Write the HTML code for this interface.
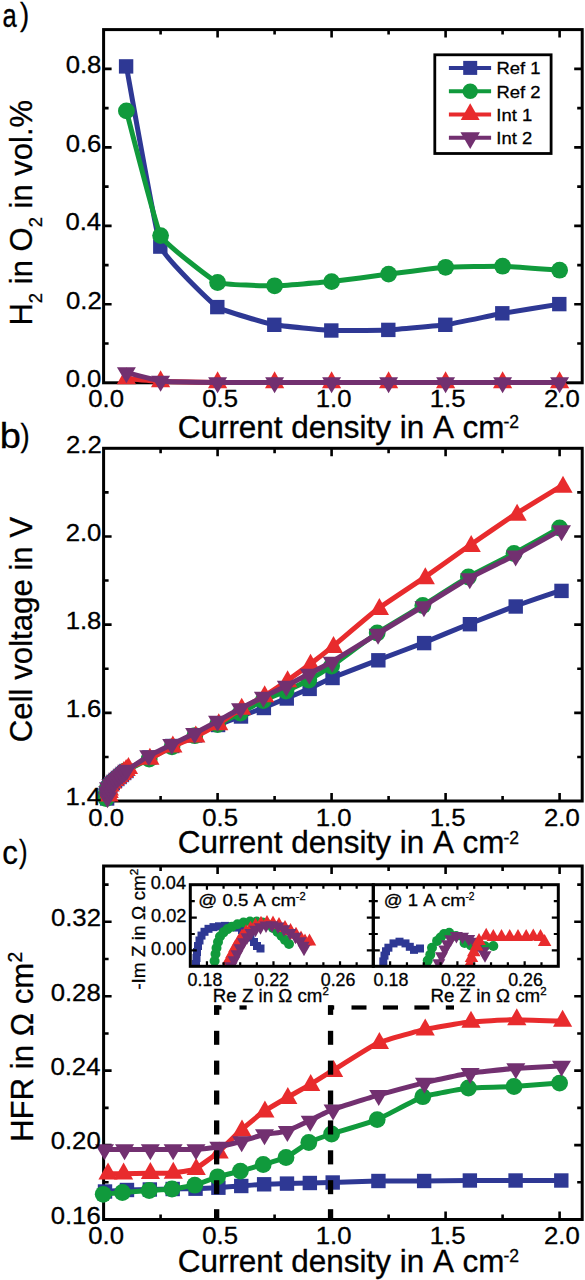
<!DOCTYPE html>
<html><head><meta charset="utf-8"><title>Figure</title>
<style>html,body{margin:0;padding:0;background:#fff;overflow:hidden;}svg{display:block;}text{stroke:#000;stroke-width:0.3px;}</style>
</head><body>
<svg width="585" height="1280" viewBox="0 0 585 1280" font-family='"Liberation Sans", sans-serif'>
<rect width="585" height="1280" fill="#fff"/>
<rect x="103.6" y="29.6" width="478.6" height="353.2" fill="none" stroke="#000" stroke-width="3"/>
<path d="M217.6,382.8 V374.8 M217.6,29.6 V37.6" stroke="#000" stroke-width="2.6"/>
<path d="M331.6,382.8 V374.8 M331.6,29.6 V37.6" stroke="#000" stroke-width="2.6"/>
<path d="M445.6,382.8 V374.8 M445.6,29.6 V37.6" stroke="#000" stroke-width="2.6"/>
<path d="M559.6,382.8 V374.8 M559.6,29.6 V37.6" stroke="#000" stroke-width="2.6"/>
<path d="M160.6,382.8 V377.8 M160.6,29.6 V34.6" stroke="#000" stroke-width="2.6"/>
<path d="M274.6,382.8 V377.8 M274.6,29.6 V34.6" stroke="#000" stroke-width="2.6"/>
<path d="M388.6,382.8 V377.8 M388.6,29.6 V34.6" stroke="#000" stroke-width="2.6"/>
<path d="M502.6,382.8 V377.8 M502.6,29.6 V34.6" stroke="#000" stroke-width="2.6"/>
<path d="M103.6,304.32 H111.6 M582.2,304.32 H574.2" stroke="#000" stroke-width="2.6"/>
<path d="M103.6,225.84 H111.6 M582.2,225.84 H574.2" stroke="#000" stroke-width="2.6"/>
<path d="M103.6,147.36 H111.6 M582.2,147.36 H574.2" stroke="#000" stroke-width="2.6"/>
<path d="M103.6,68.88 H111.6 M582.2,68.88 H574.2" stroke="#000" stroke-width="2.6"/>
<path d="M103.6,343.56 H108.6 M582.2,343.56 H577.2" stroke="#000" stroke-width="2.6"/>
<path d="M103.6,265.08 H108.6 M582.2,265.08 H577.2" stroke="#000" stroke-width="2.6"/>
<path d="M103.6,186.6 H108.6 M582.2,186.6 H577.2" stroke="#000" stroke-width="2.6"/>
<path d="M103.6,108.12 H108.6 M582.2,108.12 H577.2" stroke="#000" stroke-width="2.6"/>
<path d="M126.4,66.4 C128.11,75.41 156.04,234.56 160.6,246.6 C165.16,258.63 211.9,303.19 217.6,307.1 C223.3,311.01 268.9,323.63 274.6,324.8 C280.3,325.97 325.9,330.25 331.6,330.5 C337.3,330.75 382.9,330.19 388.6,329.9 C394.3,329.61 439.9,325.63 445.6,324.8 C451.3,323.97 496.9,314.34 502.6,313.3 C508.3,312.26 556.75,304.56 559.6,304.1" fill="none" stroke="#2e3894" stroke-width="5" stroke-linejoin="round" stroke-linecap="round"/>
<rect x="118.9" y="59.2" width="14.4" height="14.4" fill="#2e3894"/>
<rect x="153.1" y="239.4" width="14.4" height="14.4" fill="#2e3894"/>
<rect x="210.1" y="299.9" width="14.4" height="14.4" fill="#2e3894"/>
<rect x="267.1" y="317.6" width="14.4" height="14.4" fill="#2e3894"/>
<rect x="324.1" y="323.3" width="14.4" height="14.4" fill="#2e3894"/>
<rect x="381.1" y="322.7" width="14.4" height="14.4" fill="#2e3894"/>
<rect x="438.1" y="317.6" width="14.4" height="14.4" fill="#2e3894"/>
<rect x="495.1" y="306.1" width="14.4" height="14.4" fill="#2e3894"/>
<rect x="552.1" y="296.9" width="14.4" height="14.4" fill="#2e3894"/>
<path d="M126.4,110.9 C128.11,117.14 156.04,227.02 160.6,235.6 C165.16,244.18 211.9,279.99 217.6,282.5 C223.3,285.01 268.9,285.85 274.6,285.8 C280.3,285.75 325.9,282.19 331.6,281.6 C337.3,281.02 382.9,274.81 388.6,274.1 C394.3,273.39 439.9,267.69 445.6,267.3 C451.3,266.91 496.9,266.06 502.6,266.2 C508.3,266.34 556.75,270 559.6,270.2" fill="none" stroke="#109a3c" stroke-width="5" stroke-linejoin="round" stroke-linecap="round"/>
<circle cx="126.4" cy="110.9" r="8.4" fill="#109a3c"/>
<circle cx="160.6" cy="235.6" r="8.4" fill="#109a3c"/>
<circle cx="217.6" cy="282.5" r="8.4" fill="#109a3c"/>
<circle cx="274.6" cy="285.8" r="8.4" fill="#109a3c"/>
<circle cx="331.6" cy="281.6" r="8.4" fill="#109a3c"/>
<circle cx="388.6" cy="274.1" r="8.4" fill="#109a3c"/>
<circle cx="445.6" cy="267.3" r="8.4" fill="#109a3c"/>
<circle cx="502.6" cy="266.2" r="8.4" fill="#109a3c"/>
<circle cx="559.6" cy="270.2" r="8.4" fill="#109a3c"/>
<path d="M126.4,378.5 C128.11,378.65 156.04,381.3 160.6,381.5 C165.16,381.7 211.9,382.45 217.6,382.5 C223.3,382.55 268.9,382.5 274.6,382.5 C280.3,382.5 325.9,382.5 331.6,382.5 C337.3,382.5 382.9,382.5 388.6,382.5 C394.3,382.5 439.9,382.5 445.6,382.5 C451.3,382.5 496.9,382.5 502.6,382.5 C508.3,382.5 556.75,382.5 559.6,382.5" fill="none" stroke="#e82b2d" stroke-width="5" stroke-linejoin="round" stroke-linecap="round"/>
<polygon points="126.4,367.17 136,384.17 116.8,384.17" fill="#e82b2d"/>
<polygon points="160.6,370.17 170.2,387.17 151,387.17" fill="#e82b2d"/>
<polygon points="217.6,371.17 227.2,388.17 208,388.17" fill="#e82b2d"/>
<polygon points="274.6,371.17 284.2,388.17 265,388.17" fill="#e82b2d"/>
<polygon points="331.6,371.17 341.2,388.17 322,388.17" fill="#e82b2d"/>
<polygon points="388.6,371.17 398.2,388.17 379,388.17" fill="#e82b2d"/>
<polygon points="445.6,371.17 455.2,388.17 436,388.17" fill="#e82b2d"/>
<polygon points="502.6,371.17 512.2,388.17 493,388.17" fill="#e82b2d"/>
<polygon points="559.6,371.17 569.2,388.17 550,388.17" fill="#e82b2d"/>
<path d="M126.4,372.5 C128.11,372.93 156.04,380.5 160.6,381 C165.16,381.5 211.9,382.43 217.6,382.5 C223.3,382.57 268.9,382.5 274.6,382.5 C280.3,382.5 325.9,382.5 331.6,382.5 C337.3,382.5 382.9,382.5 388.6,382.5 C394.3,382.5 439.9,382.5 445.6,382.5 C451.3,382.5 496.9,382.5 502.6,382.5 C508.3,382.5 556.75,382.5 559.6,382.5" fill="none" stroke="#723070" stroke-width="5" stroke-linejoin="round" stroke-linecap="round"/>
<polygon points="116.9,367.17 135.9,367.17 126.4,383.17" fill="#723070"/>
<polygon points="151.1,375.67 170.1,375.67 160.6,391.67" fill="#723070"/>
<polygon points="208.1,377.17 227.1,377.17 217.6,393.17" fill="#723070"/>
<polygon points="265.1,377.17 284.1,377.17 274.6,393.17" fill="#723070"/>
<polygon points="322.1,377.17 341.1,377.17 331.6,393.17" fill="#723070"/>
<polygon points="379.1,377.17 398.1,377.17 388.6,393.17" fill="#723070"/>
<polygon points="436.1,377.17 455.1,377.17 445.6,393.17" fill="#723070"/>
<polygon points="493.1,377.17 512.1,377.17 502.6,393.17" fill="#723070"/>
<polygon points="550.1,377.17 569.1,377.17 559.6,393.17" fill="#723070"/>
<text transform="translate(65.67,387.2) scale(1.0500,1.0000)" font-size="24.5" fill="#000">0.0</text>
<text transform="translate(65.93,308.72) scale(1.0500,1.0000)" font-size="24.5" fill="#000">0.2</text>
<text transform="translate(65.41,230.24) scale(1.0500,1.0000)" font-size="24.5" fill="#000">0.4</text>
<text transform="translate(65.67,151.76) scale(1.0500,1.0000)" font-size="24.5" fill="#000">0.6</text>
<text transform="translate(65.67,73.28) scale(1.0500,1.0000)" font-size="24.5" fill="#000">0.8</text>
<text transform="translate(88.3,407.4) scale(1.0500,1.0000)" font-size="24.5" fill="#000">0.0</text>
<text transform="translate(202.3,407.4) scale(1.0500,1.0000)" font-size="24.5" fill="#000">0.5</text>
<text transform="translate(315.78,407.4) scale(1.0500,1.0000)" font-size="24.5" fill="#000">1.0</text>
<text transform="translate(429.78,407.4) scale(1.0500,1.0000)" font-size="24.5" fill="#000">1.5</text>
<text transform="translate(544.04,407.4) scale(1.0500,1.0000)" font-size="24.5" fill="#000">2.0</text>
<text transform="translate(177.73,437.6) scale(1.0284,1.0000)" font-size="30.6" fill="#000">Current density in A cm</text>
<text transform="translate(503.5,427.8) scale(1.0034,1.0000)" font-size="17.5" fill="#000">-2</text>
<g transform="translate(31.8,325.58) rotate(-90) scale(1.0009,1.0400)">
<text x="0" y="0" font-size="31">H</text>
<text x="22.39" y="10.2" font-size="18.5">2</text>
<text x="32.68" y="0" font-size="31"> in O</text>
<text x="98.14" y="10.2" font-size="18.5">2</text>
<text x="108.43" y="0" font-size="31"> in vol.%</text>
</g>
<rect x="434.8" y="54.8" width="116.3" height="98.7" fill="#fff" stroke="#000" stroke-width="2.8"/>
<path d="M448.9,67.9 H491.1" stroke="#2e3894" stroke-width="4"/>
<rect x="463.2" y="60.9" width="14" height="14" fill="#2e3894"/>
<text transform="translate(496.52,74.3) scale(1.0600,1.0000)" font-size="17.4" fill="#000">Ref 1</text>
<path d="M448.9,91.2 H491.1" stroke="#109a3c" stroke-width="4"/>
<circle cx="470.2" cy="91.2" r="7.75" fill="#109a3c"/>
<text transform="translate(496.52,97.6) scale(1.0600,1.0000)" font-size="17.4" fill="#000">Ref 2</text>
<path d="M448.9,114.5 H491.1" stroke="#e82b2d" stroke-width="4"/>
<polygon points="470.2,103.37 479.65,120.07 460.75,120.07" fill="#e82b2d"/>
<text transform="translate(496.34,120.9) scale(1.0600,1.0000)" font-size="17.4" fill="#000">Int 1</text>
<path d="M448.9,137.8 H491.1" stroke="#723070" stroke-width="4"/>
<polygon points="460.45,132.23 479.95,132.23 470.2,148.93" fill="#723070"/>
<text transform="translate(496.34,144.2) scale(1.0600,1.0000)" font-size="17.4" fill="#000">Int 2</text>
<text transform="translate(2.58,26.9) scale(0.7612,1.0000)" font-size="33.6" fill="#000">a</text>
<text transform="translate(20,24.64) scale(0.8675,1.0000)" font-size="31.7" fill="#000">)</text>
<rect x="103.6" y="448.3" width="478.6" height="352.7" fill="none" stroke="#000" stroke-width="3"/>
<path d="M217.6,801 V793 M217.6,448.3 V456.3" stroke="#000" stroke-width="2.6"/>
<path d="M331.6,801 V793 M331.6,448.3 V456.3" stroke="#000" stroke-width="2.6"/>
<path d="M445.6,801 V793 M445.6,448.3 V456.3" stroke="#000" stroke-width="2.6"/>
<path d="M559.6,801 V793 M559.6,448.3 V456.3" stroke="#000" stroke-width="2.6"/>
<path d="M160.6,801 V796 M160.6,448.3 V453.3" stroke="#000" stroke-width="2.6"/>
<path d="M274.6,801 V796 M274.6,448.3 V453.3" stroke="#000" stroke-width="2.6"/>
<path d="M388.6,801 V796 M388.6,448.3 V453.3" stroke="#000" stroke-width="2.6"/>
<path d="M502.6,801 V796 M502.6,448.3 V453.3" stroke="#000" stroke-width="2.6"/>
<path d="M103.6,712.84 H111.6 M582.2,712.84 H574.2" stroke="#000" stroke-width="2.6"/>
<path d="M103.6,624.66 H111.6 M582.2,624.66 H574.2" stroke="#000" stroke-width="2.6"/>
<path d="M103.6,536.48 H111.6 M582.2,536.48 H574.2" stroke="#000" stroke-width="2.6"/>
<path d="M103.6,756.93 H108.6 M582.2,756.93 H577.2" stroke="#000" stroke-width="2.6"/>
<path d="M103.6,668.75 H108.6 M582.2,668.75 H577.2" stroke="#000" stroke-width="2.6"/>
<path d="M103.6,580.57 H108.6 M582.2,580.57 H577.2" stroke="#000" stroke-width="2.6"/>
<path d="M103.6,492.39 H108.6 M582.2,492.39 H577.2" stroke="#000" stroke-width="2.6"/>
<path d="M107.1,798.5 C107.11,798.33 107.23,795.3 107.24,795 C107.25,794.7 107.33,792.83 107.38,792.5 C107.43,792.17 108.01,788.85 108.16,788.5 C108.31,788.15 110.21,785.77 110.44,785.5 C110.67,785.23 112.49,783.23 112.72,783 C112.95,782.77 114.77,781.2 115,781 C115.23,780.8 117.05,779.2 117.28,779 C117.51,778.8 119.33,777.2 119.56,777 C119.79,776.8 121.61,775.2 121.84,775 C122.07,774.8 123.89,773.2 124.12,773 C124.35,772.8 125.15,771.77 126.4,771 C127.65,770.23 146.92,758.75 149.2,757.5 C151.48,756.25 169.72,747.1 172,746 C174.28,744.9 192.52,736.55 194.8,735.5 C197.08,734.45 215.32,725.95 217.6,725 C219.88,724.05 238.12,717.35 240.4,716.5 C242.68,715.65 260.92,708.9 263.2,708 C265.48,707.1 283.72,699.46 286,698.5 C288.28,697.54 306.52,689.92 308.8,688.9 C311.08,687.88 328.18,679.43 331.6,678 C335.02,676.57 372.64,662.04 377.2,660.3 C381.76,658.55 418.24,644.9 422.8,643.1 C427.36,641.3 463.84,626.03 468.4,624.2 C472.96,622.37 509.44,608.16 514,606.5 C518.56,604.84 557.32,591.68 559.6,590.9" fill="none" stroke="#2e3894" stroke-width="5" stroke-linejoin="round" stroke-linecap="round"/>
<rect x="99.91" y="791.3" width="14.4" height="14.4" fill="#2e3894"/>
<rect x="100.06" y="787.8" width="14.4" height="14.4" fill="#2e3894"/>
<rect x="100.2" y="785.3" width="14.4" height="14.4" fill="#2e3894"/>
<rect x="100.98" y="781.3" width="14.4" height="14.4" fill="#2e3894"/>
<rect x="103.27" y="778.3" width="14.4" height="14.4" fill="#2e3894"/>
<rect x="105.56" y="775.8" width="14.4" height="14.4" fill="#2e3894"/>
<rect x="107.85" y="773.8" width="14.4" height="14.4" fill="#2e3894"/>
<rect x="110.14" y="771.8" width="14.4" height="14.4" fill="#2e3894"/>
<rect x="112.43" y="769.8" width="14.4" height="14.4" fill="#2e3894"/>
<rect x="114.72" y="767.8" width="14.4" height="14.4" fill="#2e3894"/>
<rect x="117.01" y="765.8" width="14.4" height="14.4" fill="#2e3894"/>
<rect x="119.29" y="763.8" width="14.4" height="14.4" fill="#2e3894"/>
<rect x="142.19" y="750.3" width="14.4" height="14.4" fill="#2e3894"/>
<rect x="165.09" y="738.8" width="14.4" height="14.4" fill="#2e3894"/>
<rect x="187.98" y="728.3" width="14.4" height="14.4" fill="#2e3894"/>
<rect x="210.88" y="717.8" width="14.4" height="14.4" fill="#2e3894"/>
<rect x="233.77" y="709.3" width="14.4" height="14.4" fill="#2e3894"/>
<rect x="256.67" y="700.8" width="14.4" height="14.4" fill="#2e3894"/>
<rect x="279.56" y="691.3" width="14.4" height="14.4" fill="#2e3894"/>
<rect x="302.46" y="681.7" width="14.4" height="14.4" fill="#2e3894"/>
<rect x="325.35" y="670.8" width="14.4" height="14.4" fill="#2e3894"/>
<rect x="371.14" y="653.1" width="14.4" height="14.4" fill="#2e3894"/>
<rect x="416.93" y="635.9" width="14.4" height="14.4" fill="#2e3894"/>
<rect x="462.72" y="617" width="14.4" height="14.4" fill="#2e3894"/>
<rect x="508.51" y="599.3" width="14.4" height="14.4" fill="#2e3894"/>
<rect x="554.3" y="583.7" width="14.4" height="14.4" fill="#2e3894"/>
<path d="M106.1,798.5 C106.11,798.33 106.23,795.3 106.24,795 C106.25,794.7 106.33,792.83 106.38,792.5 C106.43,792.17 107.01,788.85 107.16,788.5 C107.31,788.15 109.21,785.77 109.44,785.5 C109.67,785.23 111.49,783.23 111.72,783 C111.95,782.77 113.77,781.2 114,781 C114.23,780.8 116.05,779.2 116.28,779 C116.51,778.8 118.33,777.2 118.56,777 C118.79,776.8 120.61,775.2 120.84,775 C121.07,774.8 122.89,773.2 123.12,773 C123.35,772.8 124.1,771.7 125.4,771 C126.7,770.3 146.87,760.21 149.2,759 C151.53,757.79 169.72,747.96 172,746.8 C174.28,745.63 192.52,736.82 194.8,735.7 C197.08,734.59 215.32,725.63 217.6,724.5 C219.88,723.37 238.12,714.2 240.4,713 C242.68,711.8 260.92,701.6 263.2,700.5 C265.48,699.4 283.72,692.02 286,691 C288.28,689.98 306.52,681.25 308.8,680 C311.08,678.75 328.18,668.35 331.6,666 C335.02,663.65 372.64,636.02 377.2,633 C381.76,629.98 418.24,608.3 422.8,605.5 C427.36,602.7 463.84,579.6 468.4,577 C472.96,574.4 509.44,555.95 514,553.5 C518.56,551.05 557.32,529.27 559.6,528" fill="none" stroke="#109a3c" stroke-width="5" stroke-linejoin="round" stroke-linecap="round"/>
<circle cx="106.1" cy="798.5" r="8.4" fill="#109a3c"/>
<circle cx="106.24" cy="795" r="8.4" fill="#109a3c"/>
<circle cx="106.38" cy="792.5" r="8.4" fill="#109a3c"/>
<circle cx="107.16" cy="788.5" r="8.4" fill="#109a3c"/>
<circle cx="109.44" cy="785.5" r="8.4" fill="#109a3c"/>
<circle cx="111.72" cy="783" r="8.4" fill="#109a3c"/>
<circle cx="114" cy="781" r="8.4" fill="#109a3c"/>
<circle cx="116.28" cy="779" r="8.4" fill="#109a3c"/>
<circle cx="118.56" cy="777" r="8.4" fill="#109a3c"/>
<circle cx="120.84" cy="775" r="8.4" fill="#109a3c"/>
<circle cx="123.12" cy="773" r="8.4" fill="#109a3c"/>
<circle cx="125.4" cy="771" r="8.4" fill="#109a3c"/>
<circle cx="149.2" cy="759" r="8.4" fill="#109a3c"/>
<circle cx="172" cy="746.8" r="8.4" fill="#109a3c"/>
<circle cx="194.8" cy="735.7" r="8.4" fill="#109a3c"/>
<circle cx="217.6" cy="724.5" r="8.4" fill="#109a3c"/>
<circle cx="240.4" cy="713" r="8.4" fill="#109a3c"/>
<circle cx="263.2" cy="700.5" r="8.4" fill="#109a3c"/>
<circle cx="286" cy="691" r="8.4" fill="#109a3c"/>
<circle cx="308.8" cy="680" r="8.4" fill="#109a3c"/>
<circle cx="331.6" cy="666" r="8.4" fill="#109a3c"/>
<circle cx="377.2" cy="633" r="8.4" fill="#109a3c"/>
<circle cx="422.8" cy="605.5" r="8.4" fill="#109a3c"/>
<circle cx="468.4" cy="577" r="8.4" fill="#109a3c"/>
<circle cx="514" cy="553.5" r="8.4" fill="#109a3c"/>
<circle cx="559.6" cy="528" r="8.4" fill="#109a3c"/>
<path d="M108.6,795.83 C108.61,795.66 108.73,792.63 108.74,792.33 C108.75,792.03 108.83,790.16 108.88,789.83 C108.93,789.51 109.51,786.18 109.66,785.83 C109.81,785.48 111.71,783.11 111.94,782.83 C112.17,782.56 113.99,780.56 114.22,780.33 C114.45,780.11 116.27,778.53 116.5,778.33 C116.73,778.13 118.55,776.53 118.78,776.33 C119.01,776.13 120.83,774.53 121.06,774.33 C121.29,774.13 123.11,772.53 123.34,772.33 C123.57,772.13 125.39,770.53 125.62,770.33 C125.85,770.13 126.72,768.89 127.9,768.33 C129.08,767.77 146.99,760.2 149.2,759.13 C151.41,758.06 169.72,748.04 172,746.93 C174.28,745.82 192.52,738.05 194.8,736.93 C197.08,735.82 215.32,726.02 217.6,724.63 C219.88,723.24 238.12,710.53 240.4,709.13 C242.68,707.73 260.92,698.01 263.2,696.63 C265.48,695.25 283.72,683.11 286,681.53 C288.28,679.96 306.52,666.84 308.8,665.13 C311.08,663.43 328.18,650.22 331.6,647.43 C335.02,644.64 372.64,612.77 377.2,609.33 C381.76,605.89 418.24,581.78 422.8,578.63 C427.36,575.48 463.84,549.51 468.4,546.33 C472.96,543.15 509.44,518 514,515.03 C518.56,512.07 557.32,488.43 559.6,487.03" fill="none" stroke="#e82b2d" stroke-width="5" stroke-linejoin="round" stroke-linecap="round"/>
<polygon points="109.03,784.5 118.63,801.5 99.43,801.5" fill="#e82b2d"/>
<polygon points="109.17,781 118.77,798 99.57,798" fill="#e82b2d"/>
<polygon points="109.31,778.5 118.91,795.5 99.71,795.5" fill="#e82b2d"/>
<polygon points="110.1,774.5 119.7,791.5 100.5,791.5" fill="#e82b2d"/>
<polygon points="112.39,771.5 121.99,788.5 102.79,788.5" fill="#e82b2d"/>
<polygon points="114.69,769 124.29,786 105.09,786" fill="#e82b2d"/>
<polygon points="116.98,767 126.58,784 107.38,784" fill="#e82b2d"/>
<polygon points="119.28,765 128.88,782 109.68,782" fill="#e82b2d"/>
<polygon points="121.57,763 131.17,780 111.97,780" fill="#e82b2d"/>
<polygon points="123.87,761 133.47,778 114.27,778" fill="#e82b2d"/>
<polygon points="126.16,759 135.76,776 116.56,776" fill="#e82b2d"/>
<polygon points="128.46,757 138.06,774 118.86,774" fill="#e82b2d"/>
<polygon points="149.9,747.8 159.5,764.8 140.3,764.8" fill="#e82b2d"/>
<polygon points="172.85,735.6 182.45,752.6 163.25,752.6" fill="#e82b2d"/>
<polygon points="195.8,725.6 205.4,742.6 186.2,742.6" fill="#e82b2d"/>
<polygon points="218.75,713.3 228.35,730.3 209.15,730.3" fill="#e82b2d"/>
<polygon points="241.7,697.8 251.3,714.8 232.1,714.8" fill="#e82b2d"/>
<polygon points="264.65,685.3 274.25,702.3 255.05,702.3" fill="#e82b2d"/>
<polygon points="287.6,670.2 297.2,687.2 278,687.2" fill="#e82b2d"/>
<polygon points="310.55,653.8 320.15,670.8 300.95,670.8" fill="#e82b2d"/>
<polygon points="333.5,636.1 343.1,653.1 323.9,653.1" fill="#e82b2d"/>
<polygon points="379.4,598 389,615 369.8,615" fill="#e82b2d"/>
<polygon points="425.3,567.3 434.9,584.3 415.7,584.3" fill="#e82b2d"/>
<polygon points="471.2,535 480.8,552 461.6,552" fill="#e82b2d"/>
<polygon points="517.1,503.7 526.7,520.7 507.5,520.7" fill="#e82b2d"/>
<polygon points="563,475.7 572.6,492.7 553.4,492.7" fill="#e82b2d"/>
<path d="M108.1,797.5 C108.11,797.33 108.23,794.3 108.24,794 C108.25,793.7 108.33,791.83 108.38,791.5 C108.43,791.17 109.01,787.85 109.16,787.5 C109.31,787.15 111.21,784.77 111.44,784.5 C111.67,784.23 113.49,782.23 113.72,782 C113.95,781.77 115.77,780.2 116,780 C116.23,779.8 118.05,778.2 118.28,778 C118.51,777.8 120.33,776.2 120.56,776 C120.79,775.8 122.61,774.2 122.84,774 C123.07,773.8 124.89,772.2 125.12,772 C125.35,771.8 126.2,770.82 127.4,770 C128.6,769.18 146.97,756.88 149.2,755.6 C151.43,754.32 169.72,745.51 172,744.4 C174.28,743.28 192.52,734.46 194.8,733.3 C197.08,732.13 215.32,722.34 217.6,721.1 C219.88,719.86 238.12,709.71 240.4,708.5 C242.68,707.29 260.92,698.12 263.2,697 C265.48,695.88 283.72,687.15 286,686 C288.28,684.85 306.52,675.2 308.8,674 C311.08,672.8 328.18,664 331.6,662 C335.02,660 372.64,636.77 377.2,634 C381.76,631.23 418.24,609.27 422.8,606.5 C427.36,603.73 463.84,581.03 468.4,578.5 C472.96,575.97 509.44,558.19 514,555.8 C518.56,553.4 557.32,531.86 559.6,530.6" fill="none" stroke="#723070" stroke-width="5" stroke-linejoin="round" stroke-linecap="round"/>
<polygon points="97.93,792.17 116.93,792.17 107.43,808.17" fill="#723070"/>
<polygon points="98.07,788.67 117.07,788.67 107.57,804.67" fill="#723070"/>
<polygon points="98.21,786.17 117.21,786.17 107.71,802.17" fill="#723070"/>
<polygon points="98.99,782.17 117.99,782.17 108.49,798.17" fill="#723070"/>
<polygon points="101.28,779.17 120.28,779.17 110.78,795.17" fill="#723070"/>
<polygon points="103.58,776.67 122.58,776.67 113.08,792.67" fill="#723070"/>
<polygon points="105.87,774.67 124.87,774.67 115.37,790.67" fill="#723070"/>
<polygon points="108.16,772.67 127.16,772.67 117.66,788.67" fill="#723070"/>
<polygon points="110.46,770.67 129.46,770.67 119.96,786.67" fill="#723070"/>
<polygon points="112.75,768.67 131.75,768.67 122.25,784.67" fill="#723070"/>
<polygon points="115.04,766.67 134.04,766.67 124.54,782.67" fill="#723070"/>
<polygon points="117.34,764.67 136.34,764.67 126.84,780.67" fill="#723070"/>
<polygon points="139.26,750.27 158.26,750.27 148.76,766.27" fill="#723070"/>
<polygon points="162.19,739.07 181.19,739.07 171.69,755.07" fill="#723070"/>
<polygon points="185.12,727.97 204.12,727.97 194.62,743.97" fill="#723070"/>
<polygon points="208.05,715.77 227.05,715.77 217.55,731.77" fill="#723070"/>
<polygon points="230.98,703.17 249.98,703.17 240.48,719.17" fill="#723070"/>
<polygon points="253.91,691.67 272.91,691.67 263.41,707.67" fill="#723070"/>
<polygon points="276.84,680.67 295.84,680.67 286.34,696.67" fill="#723070"/>
<polygon points="299.77,668.67 318.77,668.67 309.27,684.67" fill="#723070"/>
<polygon points="322.7,656.67 341.7,656.67 332.2,672.67" fill="#723070"/>
<polygon points="368.56,628.67 387.56,628.67 378.06,644.67" fill="#723070"/>
<polygon points="414.42,601.17 433.42,601.17 423.92,617.17" fill="#723070"/>
<polygon points="460.28,573.17 479.28,573.17 469.78,589.17" fill="#723070"/>
<polygon points="506.14,550.47 525.14,550.47 515.64,566.47" fill="#723070"/>
<polygon points="552,525.27 571,525.27 561.5,541.27" fill="#723070"/>
<text transform="translate(65.41,805.22) scale(1.0500,1.0000)" font-size="24.5" fill="#000">1.4</text>
<text transform="translate(65.67,717.04) scale(1.0500,1.0000)" font-size="24.5" fill="#000">1.6</text>
<text transform="translate(65.67,628.86) scale(1.0500,1.0000)" font-size="24.5" fill="#000">1.8</text>
<text transform="translate(65.67,540.68) scale(1.0500,1.0000)" font-size="24.5" fill="#000">2.0</text>
<text transform="translate(65.93,452.5) scale(1.0500,1.0000)" font-size="24.5" fill="#000">2.2</text>
<text transform="translate(88.3,825.6) scale(1.0500,1.0000)" font-size="24.5" fill="#000">0.0</text>
<text transform="translate(202.3,825.6) scale(1.0500,1.0000)" font-size="24.5" fill="#000">0.5</text>
<text transform="translate(315.78,825.6) scale(1.0500,1.0000)" font-size="24.5" fill="#000">1.0</text>
<text transform="translate(429.78,825.6) scale(1.0500,1.0000)" font-size="24.5" fill="#000">1.5</text>
<text transform="translate(544.04,825.6) scale(1.0500,1.0000)" font-size="24.5" fill="#000">2.0</text>
<text transform="translate(177.73,853.3) scale(1.0284,1.0000)" font-size="30.6" fill="#000">Current density in A cm</text>
<text transform="translate(503.5,843.5) scale(1.0034,1.0000)" font-size="17.5" fill="#000">-2</text>
<g transform="translate(32,742.16) rotate(-90) scale(1.0061,1.0400)">
<text x="0" y="0" font-size="31">Cell voltage in V</text>
</g>
<text transform="translate(-0.28,447.8) scale(1.0656,1.0000)" font-size="35.7" fill="#000">b</text>
<text transform="translate(20.5,446.14) scale(0.8675,1.0000)" font-size="31.7" fill="#000">)</text>
<rect x="103.6" y="866" width="478.6" height="353.5" fill="none" stroke="#000" stroke-width="3"/>
<path d="M217.6,1219.5 V1211.5 M217.6,866 V874" stroke="#000" stroke-width="2.6"/>
<path d="M331.6,1219.5 V1211.5 M331.6,866 V874" stroke="#000" stroke-width="2.6"/>
<path d="M445.6,1219.5 V1211.5 M445.6,866 V874" stroke="#000" stroke-width="2.6"/>
<path d="M559.6,1219.5 V1211.5 M559.6,866 V874" stroke="#000" stroke-width="2.6"/>
<path d="M160.6,1219.5 V1214.5 M160.6,866 V871" stroke="#000" stroke-width="2.6"/>
<path d="M274.6,1219.5 V1214.5 M274.6,866 V871" stroke="#000" stroke-width="2.6"/>
<path d="M388.6,1219.5 V1214.5 M388.6,866 V871" stroke="#000" stroke-width="2.6"/>
<path d="M502.6,1219.5 V1214.5 M502.6,866 V871" stroke="#000" stroke-width="2.6"/>
<path d="M103.6,1145.08 H111.6 M582.2,1145.08 H574.2" stroke="#000" stroke-width="2.6"/>
<path d="M103.6,1070.66 H111.6 M582.2,1070.66 H574.2" stroke="#000" stroke-width="2.6"/>
<path d="M103.6,996.24 H111.6 M582.2,996.24 H574.2" stroke="#000" stroke-width="2.6"/>
<path d="M103.6,921.82 H111.6 M582.2,921.82 H574.2" stroke="#000" stroke-width="2.6"/>
<path d="M103.6,1182.29 H108.6 M582.2,1182.29 H577.2" stroke="#000" stroke-width="2.6"/>
<path d="M103.6,1107.87 H108.6 M582.2,1107.87 H577.2" stroke="#000" stroke-width="2.6"/>
<path d="M103.6,1033.45 H108.6 M582.2,1033.45 H577.2" stroke="#000" stroke-width="2.6"/>
<path d="M103.6,959.03 H108.6 M582.2,959.03 H577.2" stroke="#000" stroke-width="2.6"/>
<path d="M103.6,884.61 H108.6 M582.2,884.61 H577.2" stroke="#000" stroke-width="2.6"/>
<path d="M104.5,1191.5 C105.59,1191.42 124.16,1190.1 126.4,1190 C128.63,1189.9 146.92,1189.55 149.2,1189.5 C151.48,1189.45 169.72,1189.04 172,1189 C174.28,1188.96 192.52,1188.77 194.8,1188.7 C197.08,1188.63 215.32,1187.84 217.6,1187.7 C219.88,1187.57 238.12,1186.17 240.4,1186 C242.68,1185.83 260.92,1184.42 263.2,1184.3 C265.48,1184.18 283.72,1183.66 286,1183.6 C288.28,1183.53 306.52,1183.06 308.8,1183 C311.08,1182.94 328.18,1182.6 331.6,1182.5 C335.02,1182.4 372.64,1181.08 377.2,1181 C381.76,1180.92 418.24,1181.03 422.8,1181 C427.36,1180.97 463.84,1180.53 468.4,1180.5 C472.96,1180.47 509.44,1180.5 514,1180.5 C518.56,1180.5 557.32,1180.5 559.6,1180.5" fill="none" stroke="#2e3894" stroke-width="5" stroke-linejoin="round" stroke-linecap="round"/>
<rect x="97.8" y="1184.3" width="14.4" height="14.4" fill="#2e3894"/>
<rect x="119.76" y="1182.8" width="14.4" height="14.4" fill="#2e3894"/>
<rect x="142.62" y="1182.3" width="14.4" height="14.4" fill="#2e3894"/>
<rect x="165.48" y="1181.8" width="14.4" height="14.4" fill="#2e3894"/>
<rect x="188.34" y="1181.5" width="14.4" height="14.4" fill="#2e3894"/>
<rect x="211.2" y="1180.5" width="14.4" height="14.4" fill="#2e3894"/>
<rect x="234.06" y="1178.8" width="14.4" height="14.4" fill="#2e3894"/>
<rect x="256.92" y="1177.1" width="14.4" height="14.4" fill="#2e3894"/>
<rect x="279.78" y="1176.4" width="14.4" height="14.4" fill="#2e3894"/>
<rect x="302.64" y="1175.8" width="14.4" height="14.4" fill="#2e3894"/>
<rect x="325.5" y="1175.3" width="14.4" height="14.4" fill="#2e3894"/>
<rect x="371.22" y="1173.8" width="14.4" height="14.4" fill="#2e3894"/>
<rect x="416.94" y="1173.8" width="14.4" height="14.4" fill="#2e3894"/>
<rect x="462.66" y="1173.3" width="14.4" height="14.4" fill="#2e3894"/>
<rect x="508.38" y="1173.3" width="14.4" height="14.4" fill="#2e3894"/>
<rect x="554.1" y="1173.3" width="14.4" height="14.4" fill="#2e3894"/>
<path d="M103.2,1194.3 C104.16,1194.21 120.1,1192.69 122.4,1192.5 C124.7,1192.31 146.72,1190.67 149.2,1190.5 C151.68,1190.33 169.72,1189.27 172,1189 C174.28,1188.73 192.52,1185.81 194.8,1185.2 C197.08,1184.59 215.32,1177.5 217.6,1176.8 C219.88,1176.1 238.12,1171.71 240.4,1171.1 C242.68,1170.48 260.92,1165.18 263.2,1164.5 C265.48,1163.82 283.72,1158.6 286,1157.5 C288.28,1156.4 306.52,1143.67 308.8,1142.5 C311.08,1141.33 328.18,1135.14 331.6,1134 C335.02,1132.86 372.64,1121.46 377.2,1119.6 C381.76,1117.73 418.24,1098.28 422.8,1096.7 C427.36,1095.12 463.84,1088.51 468.4,1088 C472.96,1087.49 509.44,1086.74 514,1086.5 C518.56,1086.26 557.32,1083.27 559.6,1083.1" fill="none" stroke="#109a3c" stroke-width="5" stroke-linejoin="round" stroke-linecap="round"/>
<circle cx="103.2" cy="1194.3" r="8.4" fill="#109a3c"/>
<circle cx="122.4" cy="1192.5" r="8.4" fill="#109a3c"/>
<circle cx="149.2" cy="1190.5" r="8.4" fill="#109a3c"/>
<circle cx="172" cy="1189" r="8.4" fill="#109a3c"/>
<circle cx="194.8" cy="1185.2" r="8.4" fill="#109a3c"/>
<circle cx="217.6" cy="1176.8" r="8.4" fill="#109a3c"/>
<circle cx="240.4" cy="1171.1" r="8.4" fill="#109a3c"/>
<circle cx="263.2" cy="1164.5" r="8.4" fill="#109a3c"/>
<circle cx="286" cy="1157.5" r="8.4" fill="#109a3c"/>
<circle cx="308.8" cy="1142.5" r="8.4" fill="#109a3c"/>
<circle cx="331.6" cy="1134" r="8.4" fill="#109a3c"/>
<circle cx="377.2" cy="1119.6" r="8.4" fill="#109a3c"/>
<circle cx="422.8" cy="1096.7" r="8.4" fill="#109a3c"/>
<circle cx="468.4" cy="1088" r="8.4" fill="#109a3c"/>
<circle cx="514" cy="1086.5" r="8.4" fill="#109a3c"/>
<circle cx="559.6" cy="1083.1" r="8.4" fill="#109a3c"/>
<path d="M107,1173.83 C107.78,1173.83 120.39,1173.86 122.5,1173.83 C124.61,1173.81 146.72,1173.37 149.2,1173.33 C151.67,1173.29 169.72,1173.24 172,1173.03 C174.28,1172.83 192.52,1170.24 194.8,1169.23 C197.08,1168.22 215.32,1154.76 217.6,1152.83 C219.88,1150.91 238.12,1132.78 240.4,1130.73 C242.68,1128.68 260.92,1113.46 263.2,1111.83 C265.48,1110.21 283.72,1099.56 286,1098.23 C288.28,1096.91 306.52,1086.68 308.8,1085.33 C311.08,1083.98 328.18,1073.34 331.6,1071.23 C335.02,1069.13 372.64,1045.3 377.2,1043.23 C381.76,1041.16 418.24,1030.89 422.8,1029.83 C427.36,1028.77 463.84,1022.54 468.4,1022.03 C472.96,1021.52 509.44,1019.68 514,1019.63 C518.56,1019.58 557.32,1020.96 559.6,1021.03" fill="none" stroke="#e82b2d" stroke-width="5" stroke-linejoin="round" stroke-linecap="round"/>
<polygon points="108.01,1162.5 117.61,1179.5 98.41,1179.5" fill="#e82b2d"/>
<polygon points="123.58,1162.5 133.18,1179.5 113.98,1179.5" fill="#e82b2d"/>
<polygon points="150.4,1162 160,1179 140.8,1179" fill="#e82b2d"/>
<polygon points="173.3,1161.7 182.9,1178.7 163.7,1178.7" fill="#e82b2d"/>
<polygon points="196.2,1157.9 205.8,1174.9 186.6,1174.9" fill="#e82b2d"/>
<polygon points="219.1,1141.5 228.7,1158.5 209.5,1158.5" fill="#e82b2d"/>
<polygon points="242,1119.4 251.6,1136.4 232.4,1136.4" fill="#e82b2d"/>
<polygon points="264.9,1100.5 274.5,1117.5 255.3,1117.5" fill="#e82b2d"/>
<polygon points="287.8,1086.9 297.4,1103.9 278.2,1103.9" fill="#e82b2d"/>
<polygon points="310.7,1074 320.3,1091 301.1,1091" fill="#e82b2d"/>
<polygon points="333.6,1059.9 343.2,1076.9 324,1076.9" fill="#e82b2d"/>
<polygon points="379.4,1031.9 389,1048.9 369.8,1048.9" fill="#e82b2d"/>
<polygon points="425.2,1018.5 434.8,1035.5 415.6,1035.5" fill="#e82b2d"/>
<polygon points="471,1010.7 480.6,1027.7 461.4,1027.7" fill="#e82b2d"/>
<polygon points="516.8,1008.3 526.4,1025.3 507.2,1025.3" fill="#e82b2d"/>
<polygon points="562.6,1009.7 572.2,1026.7 553,1026.7" fill="#e82b2d"/>
<path d="M103.5,1149.5 C104.5,1149.5 121.22,1149.5 123.5,1149.5 C125.78,1149.5 146.77,1149.5 149.2,1149.5 C151.62,1149.5 169.72,1149.5 172,1149.5 C174.28,1149.5 192.52,1149.62 194.8,1149.5 C197.08,1149.38 215.32,1147.4 217.6,1147 C219.88,1146.6 238.12,1142.12 240.4,1141.5 C242.68,1140.88 260.92,1135.21 263.2,1134.7 C265.48,1134.19 283.72,1131.98 286,1131.3 C288.28,1130.62 306.52,1122.07 308.8,1121 C311.08,1119.93 328.18,1111.19 331.6,1109.9 C335.02,1108.62 372.64,1096.64 377.2,1095.3 C381.76,1093.96 418.24,1084.2 422.8,1083.1 C427.36,1082 463.84,1074.03 468.4,1073.3 C472.96,1072.57 509.44,1068.87 514,1068.5 C518.56,1068.13 557.32,1066.12 559.6,1066" fill="none" stroke="#723070" stroke-width="5" stroke-linejoin="round" stroke-linecap="round"/>
<polygon points="95,1144.17 114,1144.17 104.5,1160.17" fill="#723070"/>
<polygon points="115.04,1144.17 134.04,1144.17 124.54,1160.17" fill="#723070"/>
<polygon points="140.79,1144.17 159.79,1144.17 150.29,1160.17" fill="#723070"/>
<polygon points="163.63,1144.17 182.63,1144.17 173.13,1160.17" fill="#723070"/>
<polygon points="186.48,1144.17 205.48,1144.17 195.98,1160.17" fill="#723070"/>
<polygon points="209.32,1141.67 228.32,1141.67 218.82,1157.67" fill="#723070"/>
<polygon points="232.17,1136.17 251.17,1136.17 241.67,1152.17" fill="#723070"/>
<polygon points="255.01,1129.37 274.01,1129.37 264.51,1145.37" fill="#723070"/>
<polygon points="277.86,1125.97 296.86,1125.97 287.36,1141.97" fill="#723070"/>
<polygon points="300.7,1115.67 319.7,1115.67 310.2,1131.67" fill="#723070"/>
<polygon points="323.55,1104.57 342.55,1104.57 333.05,1120.57" fill="#723070"/>
<polygon points="369.24,1089.97 388.24,1089.97 378.74,1105.97" fill="#723070"/>
<polygon points="414.93,1077.77 433.93,1077.77 424.43,1093.77" fill="#723070"/>
<polygon points="460.62,1067.97 479.62,1067.97 470.12,1083.97" fill="#723070"/>
<polygon points="506.31,1063.17 525.31,1063.17 515.81,1079.17" fill="#723070"/>
<polygon points="552,1060.67 571,1060.67 561.5,1076.67" fill="#723070"/>
<rect x="214" y="1005.3" width="5.3" height="9.6" fill="#000"/>
<rect x="214" y="1030.8" width="5.3" height="14" fill="#000"/>
<rect x="214" y="1060.6" width="5.3" height="14.1" fill="#000"/>
<rect x="214" y="1090.5" width="5.3" height="14.1" fill="#000"/>
<rect x="214" y="1120.4" width="5.3" height="14.1" fill="#000"/>
<rect x="214" y="1150.3" width="5.3" height="14.1" fill="#000"/>
<rect x="214" y="1180.2" width="5.3" height="14" fill="#000"/>
<rect x="214" y="1209.2" width="5.3" height="9.8" fill="#000"/>
<rect x="327.9" y="1005.3" width="5.3" height="9.6" fill="#000"/>
<rect x="327.9" y="1030.8" width="5.3" height="14" fill="#000"/>
<rect x="327.9" y="1060.6" width="5.3" height="14.1" fill="#000"/>
<rect x="327.9" y="1090.5" width="5.3" height="14.1" fill="#000"/>
<rect x="327.9" y="1120.4" width="5.3" height="14.1" fill="#000"/>
<rect x="327.9" y="1150.3" width="5.3" height="14.1" fill="#000"/>
<rect x="327.9" y="1180.2" width="5.3" height="14" fill="#000"/>
<rect x="327.9" y="1209.2" width="5.3" height="9.8" fill="#000"/>
<rect x="214.4" y="1005.4" width="7.1" height="4.2" fill="#000"/>
<rect x="239.5" y="1005.4" width="7.2" height="4.2" fill="#000"/>
<rect x="328.2" y="1005.4" width="6" height="4.2" fill="#000"/>
<rect x="351.5" y="1005.4" width="15" height="4.2" fill="#000"/>
<rect x="382.9" y="1005.4" width="15.1" height="4.2" fill="#000"/>
<rect x="414.4" y="1005.4" width="15" height="4.2" fill="#000"/>
<rect x="445.8" y="1005.4" width="8.2" height="4.2" fill="#000"/>
<text transform="translate(50.66,1223.8) scale(1.0500,1.0000)" font-size="24.5" fill="#000">0.16</text>
<text transform="translate(50.66,1149.38) scale(1.0500,1.0000)" font-size="24.5" fill="#000">0.20</text>
<text transform="translate(50.4,1074.96) scale(1.0500,1.0000)" font-size="24.5" fill="#000">0.24</text>
<text transform="translate(50.66,1000.54) scale(1.0500,1.0000)" font-size="24.5" fill="#000">0.28</text>
<text transform="translate(50.92,926.12) scale(1.0500,1.0000)" font-size="24.5" fill="#000">0.32</text>
<text transform="translate(88.3,1244.1) scale(1.0500,1.0000)" font-size="24.5" fill="#000">0.0</text>
<text transform="translate(202.3,1244.1) scale(1.0500,1.0000)" font-size="24.5" fill="#000">0.5</text>
<text transform="translate(315.78,1244.1) scale(1.0500,1.0000)" font-size="24.5" fill="#000">1.0</text>
<text transform="translate(429.78,1244.1) scale(1.0500,1.0000)" font-size="24.5" fill="#000">1.5</text>
<text transform="translate(544.04,1244.1) scale(1.0500,1.0000)" font-size="24.5" fill="#000">2.0</text>
<text transform="translate(177.73,1271.6) scale(1.0284,1.0000)" font-size="30.6" fill="#000">Current density in A cm</text>
<text transform="translate(503.5,1261.8) scale(1.0034,1.0000)" font-size="17.5" fill="#000">-2</text>
<g transform="translate(32.9,1142.1) rotate(-90) scale(1.0076,1.0400)">
<text x="0" y="0" font-size="31">HFR in Ω cm</text>
<text x="178.17" y="-10.3" font-size="19">2</text>
</g>
<text transform="translate(2.35,864.1) scale(0.9334,1.0000)" font-size="33.6" fill="#000">c</text>
<text transform="translate(19,861.84) scale(0.8112,1.0000)" font-size="31.7" fill="#000">)</text>
<rect x="190.3" y="884.7" width="368" height="81.6" fill="#fff"/>
<svg x="190.3" y="884.7" width="368" height="81.6" viewBox="190.3 884.7 368 81.6" overflow="hidden">
<path d="M196,964 C196.03,963.7 196.45,958.6 196.5,958 C196.55,957.4 196.93,952.6 197,952 C197.07,951.4 197.88,946.58 198,946 C198.12,945.42 199.32,941.02 199.5,940.5 C199.68,939.98 201.25,936.01 201.5,935.58 C201.75,935.14 204.15,932.12 204.5,931.78 C204.85,931.44 208.05,929.06 208.5,928.83 C208.95,928.6 212.97,927.27 213.5,927.14 C214.03,927.01 218.43,926.36 219,926.3 C219.57,926.23 224.4,925.88 225,925.88 C225.6,925.88 230.4,926.21 231,926.3 C231.6,926.38 236.45,927.37 237,927.56 C237.55,927.75 241.53,929.8 242,930.09 C242.47,930.39 246.07,933.1 246.5,933.47 C246.93,933.84 250.12,937.07 250.5,937.5 C250.88,937.93 253.68,941.58 254,942 C254.32,942.42 256.68,945.67 257,946 C257.32,946.33 260.32,948.38 260.5,948.5" fill="none" stroke="#2e3894" stroke-width="2.5" stroke-linejoin="round" stroke-linecap="round"/>
<rect x="192" y="960" width="8" height="8" fill="#2e3894"/>
<rect x="192.5" y="954" width="8" height="8" fill="#2e3894"/>
<rect x="193" y="948" width="8" height="8" fill="#2e3894"/>
<rect x="194" y="942" width="8" height="8" fill="#2e3894"/>
<rect x="195.5" y="936.5" width="8" height="8" fill="#2e3894"/>
<rect x="197.5" y="931.58" width="8" height="8" fill="#2e3894"/>
<rect x="200.5" y="927.78" width="8" height="8" fill="#2e3894"/>
<rect x="204.5" y="924.83" width="8" height="8" fill="#2e3894"/>
<rect x="209.5" y="923.14" width="8" height="8" fill="#2e3894"/>
<rect x="215" y="922.3" width="8" height="8" fill="#2e3894"/>
<rect x="221" y="921.88" width="8" height="8" fill="#2e3894"/>
<rect x="227" y="922.3" width="8" height="8" fill="#2e3894"/>
<rect x="233" y="923.56" width="8" height="8" fill="#2e3894"/>
<rect x="238" y="926.09" width="8" height="8" fill="#2e3894"/>
<rect x="242.5" y="929.47" width="8" height="8" fill="#2e3894"/>
<rect x="246.5" y="933.5" width="8" height="8" fill="#2e3894"/>
<rect x="250" y="938" width="8" height="8" fill="#2e3894"/>
<rect x="253" y="942" width="8" height="8" fill="#2e3894"/>
<rect x="256.5" y="944.5" width="8" height="8" fill="#2e3894"/>
<path d="M214.6,961 C214.64,960.65 215.41,954.65 215.5,954 C215.59,953.35 216.38,948.6 216.5,948 C216.62,947.4 217.82,942.58 218,942 C218.18,941.42 219.72,936.98 220,936.5 C220.28,936.02 223.12,932.71 223.5,932.34 C223.88,931.97 227.07,929.38 227.5,929.09 C227.93,928.81 231.5,926.9 232,926.66 C232.5,926.41 236.93,924.43 237.5,924.22 C238.07,924.01 242.88,922.64 243.5,922.5 C244.12,922.36 249.35,921.55 250,921.5 C250.65,921.45 255.88,921.45 256.5,921.5 C257.12,921.55 261.93,922.34 262.5,922.5 C263.07,922.66 267.48,924.36 268,924.62 C268.52,924.89 272.52,927.51 273,927.88 C273.48,928.24 277.07,931.53 277.5,931.94 C277.93,932.34 281.12,935.6 281.5,936 C281.88,936.4 284.62,939.6 285,940 C285.38,940.4 288.8,943.8 289,944" fill="none" stroke="#109a3c" stroke-width="2.5" stroke-linejoin="round" stroke-linecap="round"/>
<circle cx="214.6" cy="961" r="5" fill="#109a3c"/>
<circle cx="215.5" cy="954" r="5" fill="#109a3c"/>
<circle cx="216.5" cy="948" r="5" fill="#109a3c"/>
<circle cx="218" cy="942" r="5" fill="#109a3c"/>
<circle cx="220" cy="936.5" r="5" fill="#109a3c"/>
<circle cx="223.5" cy="932.34" r="5" fill="#109a3c"/>
<circle cx="227.5" cy="929.09" r="5" fill="#109a3c"/>
<circle cx="232" cy="926.66" r="5" fill="#109a3c"/>
<circle cx="237.5" cy="924.22" r="5" fill="#109a3c"/>
<circle cx="243.5" cy="922.5" r="5" fill="#109a3c"/>
<circle cx="250" cy="921.5" r="5" fill="#109a3c"/>
<circle cx="256.5" cy="921.5" r="5" fill="#109a3c"/>
<circle cx="262.5" cy="922.5" r="5" fill="#109a3c"/>
<circle cx="268" cy="924.62" r="5" fill="#109a3c"/>
<circle cx="273" cy="927.88" r="5" fill="#109a3c"/>
<circle cx="277.5" cy="931.94" r="5" fill="#109a3c"/>
<circle cx="281.5" cy="936" r="5" fill="#109a3c"/>
<circle cx="285" cy="940" r="5" fill="#109a3c"/>
<circle cx="289" cy="944" r="5" fill="#109a3c"/>
<path d="M226.5,966 C226.62,965.7 228.72,960.6 229,960 C229.28,959.4 231.7,954.6 232,954 C232.3,953.4 234.68,948.6 235,948 C235.32,947.4 238.15,942.58 238.5,942 C238.85,941.42 241.62,936.98 242,936.5 C242.38,936.02 245.57,932.73 246,932.34 C246.43,931.95 250.03,929.01 250.5,928.69 C250.97,928.36 254.97,926.09 255.5,925.84 C256.02,925.6 260.43,923.95 261,923.81 C261.57,923.67 266.4,923.02 267,923 C267.6,922.98 272.4,923.3 273,923.41 C273.6,923.51 278.4,924.81 279,925.03 C279.6,925.25 284.43,927.57 285,927.88 C285.57,928.18 289.95,930.78 290.5,931.12 C291.05,931.47 295.48,934.41 296,934.78 C296.52,935.15 300.55,938.16 301,938.5 C301.45,938.84 304.57,941.35 305,941.5 C305.43,941.65 309.27,941.5 309.5,941.5" fill="none" stroke="#e82b2d" stroke-width="2.5" stroke-linejoin="round" stroke-linecap="round"/>
<polygon points="226.5,958 233.25,970 219.75,970" fill="#e82b2d"/>
<polygon points="229,952 235.75,964 222.25,964" fill="#e82b2d"/>
<polygon points="232,946 238.75,958 225.25,958" fill="#e82b2d"/>
<polygon points="235,940 241.75,952 228.25,952" fill="#e82b2d"/>
<polygon points="238.5,934 245.25,946 231.75,946" fill="#e82b2d"/>
<polygon points="242,928.5 248.75,940.5 235.25,940.5" fill="#e82b2d"/>
<polygon points="246,924.34 252.75,936.34 239.25,936.34" fill="#e82b2d"/>
<polygon points="250.5,920.69 257.25,932.69 243.75,932.69" fill="#e82b2d"/>
<polygon points="255.5,917.84 262.25,929.84 248.75,929.84" fill="#e82b2d"/>
<polygon points="261,915.81 267.75,927.81 254.25,927.81" fill="#e82b2d"/>
<polygon points="267,915 273.75,927 260.25,927" fill="#e82b2d"/>
<polygon points="273,915.41 279.75,927.41 266.25,927.41" fill="#e82b2d"/>
<polygon points="279,917.03 285.75,929.03 272.25,929.03" fill="#e82b2d"/>
<polygon points="285,919.88 291.75,931.88 278.25,931.88" fill="#e82b2d"/>
<polygon points="290.5,923.12 297.25,935.12 283.75,935.12" fill="#e82b2d"/>
<polygon points="296,926.78 302.75,938.78 289.25,938.78" fill="#e82b2d"/>
<polygon points="301,930.5 307.75,942.5 294.25,942.5" fill="#e82b2d"/>
<polygon points="305,933.5 311.75,945.5 298.25,945.5" fill="#e82b2d"/>
<polygon points="309.5,933.5 316.25,945.5 302.75,945.5" fill="#e82b2d"/>
<path d="M231,966 C231.15,965.7 233.7,960.6 234,960 C234.3,959.4 236.7,954.6 237,954 C237.3,953.4 239.68,948.6 240,948 C240.32,947.4 243.15,942.55 243.5,942 C243.85,941.45 246.62,937.46 247,937 C247.38,936.54 250.57,933.12 251,932.75 C251.43,932.38 255.03,929.78 255.5,929.5 C255.97,929.22 259.98,927.27 260.5,927.06 C261.02,926.86 265.43,925.54 266,925.44 C266.57,925.34 271.4,924.99 272,925.03 C272.6,925.07 277.4,926.05 278,926.25 C278.6,926.45 283.4,928.77 284,929.09 C284.6,929.42 289.43,932.38 290,932.75 C290.57,933.12 295,936.09 295.5,936.5 C296,936.91 299.62,940.55 300,941 C300.38,941.45 302.8,945.12 303,945.5 C303.2,945.88 303.95,948.35 304,948.5" fill="none" stroke="#723070" stroke-width="2.5" stroke-linejoin="round" stroke-linecap="round"/>
<polygon points="224.5,962.17 237.5,962.17 231,973.67" fill="#723070"/>
<polygon points="227.5,956.17 240.5,956.17 234,967.67" fill="#723070"/>
<polygon points="230.5,950.17 243.5,950.17 237,961.67" fill="#723070"/>
<polygon points="233.5,944.17 246.5,944.17 240,955.67" fill="#723070"/>
<polygon points="237,938.17 250,938.17 243.5,949.67" fill="#723070"/>
<polygon points="240.5,933.17 253.5,933.17 247,944.67" fill="#723070"/>
<polygon points="244.5,928.92 257.5,928.92 251,940.42" fill="#723070"/>
<polygon points="249,925.67 262,925.67 255.5,937.17" fill="#723070"/>
<polygon points="254,923.23 267,923.23 260.5,934.73" fill="#723070"/>
<polygon points="259.5,921.6 272.5,921.6 266,933.1" fill="#723070"/>
<polygon points="265.5,921.2 278.5,921.2 272,932.7" fill="#723070"/>
<polygon points="271.5,922.42 284.5,922.42 278,933.92" fill="#723070"/>
<polygon points="277.5,925.26 290.5,925.26 284,936.76" fill="#723070"/>
<polygon points="283.5,928.92 296.5,928.92 290,940.42" fill="#723070"/>
<polygon points="289,932.67 302,932.67 295.5,944.17" fill="#723070"/>
<polygon points="293.5,937.17 306.5,937.17 300,948.67" fill="#723070"/>
<polygon points="296.5,941.67 309.5,941.67 303,953.17" fill="#723070"/>
<polygon points="297.5,944.67 310.5,944.67 304,956.17" fill="#723070"/>
<path d="M383.3,961.4 C383.36,961.11 384.37,956.13 384.5,955.62 C384.63,955.12 385.81,951.67 386,951.27 C386.19,950.87 388.02,948.09 388.4,947.7 C388.77,947.31 392.94,943.7 393.5,943.4 C394.06,943.1 398.9,941.7 399.5,941.7 C400.1,941.7 404.99,943.14 405.5,943.4 C406.01,943.65 409.38,946.48 409.8,946.8 C410.23,947.12 413.49,949.76 414,949.85 C414.51,949.93 419.7,948.57 420,948.5" fill="none" stroke="#2e3894" stroke-width="2.5" stroke-linejoin="round" stroke-linecap="round"/>
<rect x="379.3" y="957.4" width="8" height="8" fill="#2e3894"/>
<rect x="380.5" y="951.62" width="8" height="8" fill="#2e3894"/>
<rect x="382" y="947.27" width="8" height="8" fill="#2e3894"/>
<rect x="384.4" y="943.7" width="8" height="8" fill="#2e3894"/>
<rect x="389.5" y="939.4" width="8" height="8" fill="#2e3894"/>
<rect x="395.5" y="937.7" width="8" height="8" fill="#2e3894"/>
<rect x="401.5" y="939.4" width="8" height="8" fill="#2e3894"/>
<rect x="405.8" y="942.8" width="8" height="8" fill="#2e3894"/>
<rect x="410" y="945.85" width="8" height="8" fill="#2e3894"/>
<rect x="416" y="944.5" width="8" height="8" fill="#2e3894"/>
<path d="M427.7,960.6 C427.83,960.3 430.09,955.25 430.3,954.6 C430.51,953.96 431.66,948.38 432,947.7 C432.34,947.02 436.68,941.41 437.1,940.9 C437.53,940.39 440.16,937.85 440.5,937.5 C440.84,937.15 443.56,934.24 444,934 C444.44,933.76 448.6,932.6 449.2,932.7 C449.8,932.8 455.23,935.49 456,936 C456.77,936.51 463.85,942.52 464.6,943 C465.35,943.48 470.33,945.35 471,945.5 C471.67,945.65 477.3,945.97 478,946 C478.7,946.03 484.24,946.2 485,946.2 C485.76,946.2 492.88,946.01 493.3,946" fill="none" stroke="#109a3c" stroke-width="2.5" stroke-linejoin="round" stroke-linecap="round"/>
<circle cx="427.7" cy="960.6" r="5" fill="#109a3c"/>
<circle cx="430.3" cy="954.6" r="5" fill="#109a3c"/>
<circle cx="432" cy="947.7" r="5" fill="#109a3c"/>
<circle cx="437.1" cy="940.9" r="5" fill="#109a3c"/>
<circle cx="440.5" cy="937.5" r="5" fill="#109a3c"/>
<circle cx="444" cy="934" r="5" fill="#109a3c"/>
<circle cx="449.2" cy="932.7" r="5" fill="#109a3c"/>
<circle cx="456" cy="936" r="5" fill="#109a3c"/>
<circle cx="464.6" cy="943" r="5" fill="#109a3c"/>
<circle cx="471" cy="945.5" r="5" fill="#109a3c"/>
<circle cx="478" cy="946" r="5" fill="#109a3c"/>
<circle cx="485" cy="946.2" r="5" fill="#109a3c"/>
<circle cx="493.3" cy="946" r="5" fill="#109a3c"/>
<path d="M438.8,963.1 C438.94,962.75 441.2,956.68 441.5,956 C441.8,955.32 444.5,950 444.8,949.4 C445.1,948.8 447.2,944.51 447.5,944 C447.8,943.49 450.36,939.61 450.8,939.2 C451.25,938.79 455.81,935.93 456.4,935.8 C456.98,935.66 461.88,936.35 462.5,936.5 C463.12,936.65 468.12,938.55 468.7,938.8 C469.27,939.05 473.54,941.19 474,941.5 C474.46,941.81 477.55,944.52 478,945 C478.45,945.48 482.65,950.5 483,951 C483.35,951.5 484.9,954.8 485,955" fill="none" stroke="#723070" stroke-width="2.5" stroke-linejoin="round" stroke-linecap="round"/>
<polygon points="432.3,959.27 445.3,959.27 438.8,970.77" fill="#723070"/>
<polygon points="435,952.17 448,952.17 441.5,963.67" fill="#723070"/>
<polygon points="438.3,945.57 451.3,945.57 444.8,957.07" fill="#723070"/>
<polygon points="441,940.17 454,940.17 447.5,951.67" fill="#723070"/>
<polygon points="444.3,935.37 457.3,935.37 450.8,946.87" fill="#723070"/>
<polygon points="449.9,931.97 462.9,931.97 456.4,943.47" fill="#723070"/>
<polygon points="456,932.67 469,932.67 462.5,944.17" fill="#723070"/>
<polygon points="462.2,934.97 475.2,934.97 468.7,946.47" fill="#723070"/>
<polygon points="467.5,937.67 480.5,937.67 474,949.17" fill="#723070"/>
<polygon points="471.5,941.17 484.5,941.17 478,952.67" fill="#723070"/>
<polygon points="476.5,947.17 489.5,947.17 483,958.67" fill="#723070"/>
<polygon points="478.5,951.17 491.5,951.17 485,962.67" fill="#723070"/>
<path d="M469.7,964.5 C469.79,964.17 471.3,958.62 471.5,958 C471.7,957.38 473.55,952.78 473.8,952.2 C474.05,951.62 476.24,947.06 476.5,946.5 C476.76,945.94 478.51,941.53 479,941 C479.49,940.47 485.49,936 486.2,935.8 C486.91,935.6 492.54,936.94 493.3,937 C494.06,937.06 500.68,937 501.5,937 C502.32,937 508.88,937 509.7,937 C510.52,937 517.17,937 518,937 C518.83,937 525.44,937.02 526.2,937 C526.97,936.98 532.58,936.5 533.3,936.5 C534.01,936.5 539.93,936.73 540.5,937 C541.07,937.27 544.39,941.75 544.6,942" fill="none" stroke="#e82b2d" stroke-width="2.5" stroke-linejoin="round" stroke-linecap="round"/>
<polygon points="469.7,956.5 476.45,968.5 462.95,968.5" fill="#e82b2d"/>
<polygon points="471.5,950 478.25,962 464.75,962" fill="#e82b2d"/>
<polygon points="473.8,944.2 480.55,956.2 467.05,956.2" fill="#e82b2d"/>
<polygon points="476.5,938.5 483.25,950.5 469.75,950.5" fill="#e82b2d"/>
<polygon points="479,933 485.75,945 472.25,945" fill="#e82b2d"/>
<polygon points="486.2,927.8 492.95,939.8 479.45,939.8" fill="#e82b2d"/>
<polygon points="493.3,929 500.05,941 486.55,941" fill="#e82b2d"/>
<polygon points="501.5,929 508.25,941 494.75,941" fill="#e82b2d"/>
<polygon points="509.7,929 516.45,941 502.95,941" fill="#e82b2d"/>
<polygon points="518,929 524.75,941 511.25,941" fill="#e82b2d"/>
<polygon points="526.2,929 532.95,941 519.45,941" fill="#e82b2d"/>
<polygon points="533.3,928.5 540.05,940.5 526.55,940.5" fill="#e82b2d"/>
<polygon points="540.5,929 547.25,941 533.75,941" fill="#e82b2d"/>
<polygon points="544.6,934 551.35,946 537.85,946" fill="#e82b2d"/>
</svg>
<rect x="190.3" y="884.7" width="183" height="81.6" fill="none" stroke="#000" stroke-width="3"/>
<rect x="373.3" y="884.7" width="185" height="81.6" fill="none" stroke="#000" stroke-width="3"/>
<path d="M206.94,966.3 V961.3 M206.94,884.7 V889.7" stroke="#000" stroke-width="2.2"/>
<path d="M223.57,966.3 V962.3 M223.57,884.7 V888.7" stroke="#000" stroke-width="2.2"/>
<path d="M240.21,966.3 V962.3 M240.21,884.7 V888.7" stroke="#000" stroke-width="2.2"/>
<path d="M256.85,966.3 V962.3 M256.85,884.7 V888.7" stroke="#000" stroke-width="2.2"/>
<path d="M273.48,966.3 V961.3 M273.48,884.7 V889.7" stroke="#000" stroke-width="2.2"/>
<path d="M290.12,966.3 V962.3 M290.12,884.7 V888.7" stroke="#000" stroke-width="2.2"/>
<path d="M306.75,966.3 V962.3 M306.75,884.7 V888.7" stroke="#000" stroke-width="2.2"/>
<path d="M323.39,966.3 V962.3 M323.39,884.7 V888.7" stroke="#000" stroke-width="2.2"/>
<path d="M340.03,966.3 V961.3 M340.03,884.7 V889.7" stroke="#000" stroke-width="2.2"/>
<path d="M356.66,966.3 V962.3 M356.66,884.7 V888.7" stroke="#000" stroke-width="2.2"/>
<path d="M390.12,966.3 V961.3 M390.12,884.7 V889.7" stroke="#000" stroke-width="2.2"/>
<path d="M406.94,966.3 V962.3 M406.94,884.7 V888.7" stroke="#000" stroke-width="2.2"/>
<path d="M423.75,966.3 V962.3 M423.75,884.7 V888.7" stroke="#000" stroke-width="2.2"/>
<path d="M440.57,966.3 V962.3 M440.57,884.7 V888.7" stroke="#000" stroke-width="2.2"/>
<path d="M457.39,966.3 V961.3 M457.39,884.7 V889.7" stroke="#000" stroke-width="2.2"/>
<path d="M474.21,966.3 V962.3 M474.21,884.7 V888.7" stroke="#000" stroke-width="2.2"/>
<path d="M491.03,966.3 V962.3 M491.03,884.7 V888.7" stroke="#000" stroke-width="2.2"/>
<path d="M507.85,966.3 V962.3 M507.85,884.7 V888.7" stroke="#000" stroke-width="2.2"/>
<path d="M524.66,966.3 V961.3 M524.66,884.7 V889.7" stroke="#000" stroke-width="2.2"/>
<path d="M541.48,966.3 V962.3 M541.48,884.7 V888.7" stroke="#000" stroke-width="2.2"/>
<path d="M190.3,950.4 H196.8 M366.8,950.4 H379.8 M558.3,950.4 H551.8" stroke="#000" stroke-width="2.2"/>
<path d="M190.3,934 H194.8 M368.8,934 H377.8 M558.3,934 H553.8" stroke="#000" stroke-width="2.2"/>
<path d="M190.3,917.6 H196.8 M366.8,917.6 H379.8 M558.3,917.6 H551.8" stroke="#000" stroke-width="2.2"/>
<path d="M190.3,901.2 H194.8 M368.8,901.2 H377.8 M558.3,901.2 H553.8" stroke="#000" stroke-width="2.2"/>
<text transform="translate(150.74,889.1) scale(1.0200,1.0000)" font-size="17.8" fill="#000">0.04</text>
<text transform="translate(151.1,921.9) scale(1.0200,1.0000)" font-size="17.8" fill="#000">0.02</text>
<text transform="translate(150.92,954.7) scale(1.0200,1.0000)" font-size="17.8" fill="#000">0.00</text>
<text transform="translate(187.62,985.7) scale(1.0200,1.0000)" font-size="17.5" fill="#000">0.18</text>
<text transform="translate(254.26,985.7) scale(1.0200,1.0000)" font-size="17.5" fill="#000">0.22</text>
<text transform="translate(320.71,985.7) scale(1.0200,1.0000)" font-size="17.5" fill="#000">0.26</text>
<text transform="translate(373.6,985.7) scale(1.0200,1.0000)" font-size="17.5" fill="#000">0.18</text>
<text transform="translate(440.96,985.7) scale(1.0200,1.0000)" font-size="17.5" fill="#000">0.22</text>
<text transform="translate(508.15,985.7) scale(1.0200,1.0000)" font-size="17.5" fill="#000">0.26</text>
<g transform="translate(212.8,1001.8) scale(1.0398,1.0000)">
<text x="0" y="0" font-size="18">Re Z in Ω cm</text>
<text x="105.47" y="-6.5" font-size="11">2</text>
</g>
<g transform="translate(430.5,1001.8) scale(1.0398,1.0000)">
<text x="0" y="0" font-size="18">Re Z in Ω cm</text>
<text x="105.47" y="-6.5" font-size="11">2</text>
</g>
<text transform="translate(198.29,905.6) scale(1.0789,1.0000)" font-size="17.3" fill="#000">@ 0.5 A cm</text>
<text transform="translate(295.76,899.8) scale(1.0556,1.0000)" font-size="10.5" fill="#000">-2</text>
<text transform="translate(383.8,905.6) scale(1.0758,1.0000)" font-size="17.3" fill="#000">@ 1 A cm</text>
<text transform="translate(465.39,899.8) scale(0.9725,1.0000)" font-size="10.5" fill="#000">-2</text>
<g transform="translate(145.3,989.86) rotate(-90) scale(1.0570,1.0000)">
<text x="0" y="0" font-size="18">-Im Z in Ω cm</text>
<text x="108.45" y="-7.5" font-size="11">2</text>
</g>
</svg>
</body></html>
